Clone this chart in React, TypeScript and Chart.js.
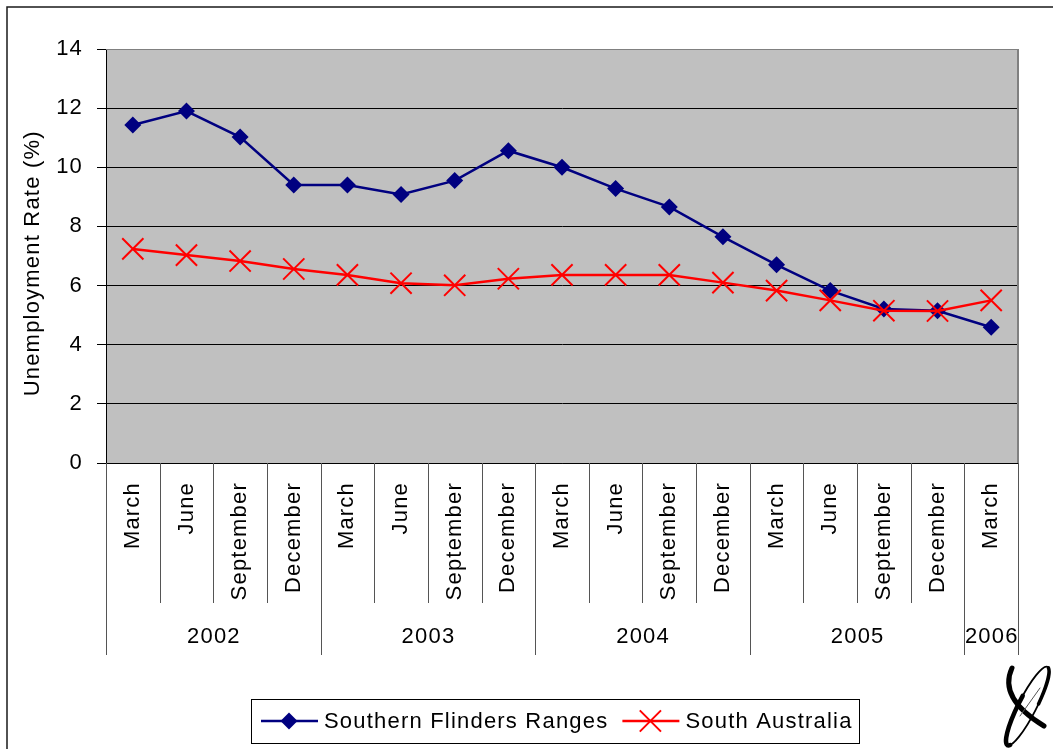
import React, { useEffect, useRef } from "react";
import { Chart, registerables } from "chart.js";

Chart.register(...registerables);

// ---- data ----
const months = [
  "March", "June", "September", "December",
  "March", "June", "September", "December",
  "March", "June", "September", "December",
  "March", "June", "September", "December",
  "March",
];
const yearLabels = ["2002", "2003", "2004", "2005", "2006"];
const yearSpans = [4, 4, 4, 4, 1];
const southernFlinders = [
  11.43, 11.9, 11.02, 9.4,
  9.4, 9.08, 9.55, 10.56,
  10.0, 9.28, 8.66, 7.65,
  6.7, 5.83, 5.21, 5.15,
  4.59,
];
const southAustralia = [
  7.24, 7.03, 6.83, 6.56,
  6.36, 6.08, 6.01, 6.23,
  6.36, 6.36, 6.36, 6.1,
  5.83, 5.5, 5.15, 5.14,
  5.5,
];
const yMin = 0;
const yMax = 14;
const yStep = 2;
const yTitle = "Unemployment Rate (%)";
const seriesNames = ["Southern Flinders Ranges", "South Australia"];

const FONT = "'Liberation Sans', Arial, Helvetica, sans-serif";
const SPACING = "1.2px";
const BLUE = "#000080";
const RED = "#FF0000";

function setSpacing(c: any) {
  try {
    (c.ctx as any).letterSpacing = SPACING;
  } catch (e) {
    /* ignore */
  }
}

function drawDiamond(ctx: CanvasRenderingContext2D, x: number, y: number, r: number, color: string) {
  ctx.beginPath();
  ctx.moveTo(x, y - r);
  ctx.lineTo(x + r, y);
  ctx.lineTo(x, y + r);
  ctx.lineTo(x - r, y);
  ctx.closePath();
  ctx.fillStyle = color;
  ctx.fill();
}

function drawX(ctx: CanvasRenderingContext2D, x: number, y: number, h: number, color: string) {
  ctx.beginPath();
  ctx.moveTo(x - h, y - h);
  ctx.lineTo(x + h, y + h);
  ctx.moveTo(x - h, y + h);
  ctx.lineTo(x + h, y - h);
  ctx.strokeStyle = color;
  ctx.lineWidth = 2;
  ctx.stroke();
}

function drawLogo(ctx: CanvasRenderingContext2D) {
  ctx.save();
  ctx.strokeStyle = "#000";
  ctx.lineCap = "round";
  const cx = 1027.5;
  const cy = 706;
  const rot = (27 * Math.PI) / 180;
  ctx.lineWidth = 1.8;
  ctx.beginPath();
  ctx.ellipse(cx, cy, 9, 44, rot, 0, Math.PI * 2);
  ctx.stroke();
  ctx.lineWidth = 4.5;
  ctx.beginPath();
  ctx.ellipse(cx, cy, 9, 44, rot, Math.PI * 0.42, Math.PI * 1.05);
  ctx.stroke();
  ctx.lineWidth = 3.5;
  ctx.beginPath();
  ctx.ellipse(cx, cy, 9, 44, rot, Math.PI * 1.55, Math.PI * 1.95);
  ctx.stroke();
  ctx.lineWidth = 5;
  ctx.beginPath();
  ctx.moveTo(1012, 668);
  ctx.quadraticCurveTo(998, 698, 1044, 726);
  ctx.stroke();
  ctx.lineWidth = 1;
  ctx.strokeStyle = "#555";
  ctx.beginPath();
  ctx.moveTo(1020, 716);
  ctx.lineTo(1040, 688);
  ctx.stroke();
  ctx.restore();
}

const decorPlugin = {
  id: "decor",
  beforeUpdate(c: any) {
    setSpacing(c);
  },
  beforeLayout(c: any) {
    setSpacing(c);
  },
  beforeDraw(c: any) {
    setSpacing(c);
    const { ctx, chartArea: a } = c;
    ctx.save();
    ctx.fillStyle = "#ffffff";
    ctx.fillRect(0, 0, c.width, c.height);
    ctx.fillStyle = "#C0C0C0";
    ctx.fillRect(a.left, a.top, a.right - a.left, a.bottom - a.top);
    ctx.restore();
  },
  afterDraw(c: any) {
    const { ctx, chartArea: a } = c;
    const xs = c.scales.x;
    const step = xs.getPixelForValue(1) - xs.getPixelForValue(0);
    const half = step / 2;
    ctx.save();
    try {
      (ctx as any).letterSpacing = SPACING;
    } catch (e) {}

    // plot area top / right borders
    ctx.strokeStyle = "#808080";
    ctx.lineWidth = 1;
    ctx.beginPath();
    ctx.moveTo(a.left, Math.round(a.top) + 0.5);
    ctx.lineTo(a.right, Math.round(a.top) + 0.5);
    ctx.stroke();
    ctx.lineWidth = 2;
    ctx.beginPath();
    ctx.moveTo(Math.round(a.right), a.top);
    ctx.lineTo(Math.round(a.right), a.bottom);
    ctx.stroke();

    // category separators
    const groupStarts = new Set<number>();
    let acc = 0;
    for (const s of yearSpans) {
      groupStarts.add(acc);
      acc += s;
    }
    const monthBottom = a.bottom + 140;
    const yearBottom = a.bottom + 192;
    ctx.strokeStyle = "#555";
    ctx.lineWidth = 1;
    for (let i = 0; i <= months.length; i++) {
      const bx =
        Math.round(
          xs.getPixelForValue(Math.min(i, months.length - 1)) + (i === months.length ? half : -half)
        ) + 0.5;
      const isYear = groupStarts.has(i) || i === months.length;
      ctx.beginPath();
      ctx.moveTo(bx, a.bottom);
      ctx.lineTo(bx, isYear ? yearBottom : monthBottom);
      ctx.stroke();
    }

    // year labels
    ctx.fillStyle = "#000";
    ctx.font = `22px ${FONT}`;
    ctx.textAlign = "center";
    ctx.textBaseline = "middle";
    let start = 0;
    yearLabels.forEach((lab, k) => {
      const end = start + yearSpans[k] - 1;
      const l = xs.getPixelForValue(start) - half;
      const r = xs.getPixelForValue(end) + half;
      ctx.fillText(lab, (l + r) / 2 + 0.6, a.bottom + 174);
      start += yearSpans[k];
    });

    // legend
    const ly = 721;
    ctx.textAlign = "left";
    ctx.textBaseline = "middle";
    let lx = 261;
    let lastEnd = lx;
    c.data.datasets.forEach((ds: any, k: number) => {
      ctx.strokeStyle = ds.borderColor;
      ctx.lineWidth = 2.5;
      ctx.beginPath();
      ctx.moveTo(lx, ly);
      ctx.lineTo(lx + 57, ly);
      ctx.stroke();
      if (k === 0) drawDiamond(ctx, lx + 28, ly, 8.5, ds.borderColor);
      else drawX(ctx, lx + 28, ly, 10.6, ds.borderColor);
      ctx.fillStyle = "#000";
      const tx = lx + 63;
      ctx.fillText(ds.label, tx, ly + 1);
      const w = ctx.measureText(ds.label).width;
      lastEnd = tx + w;
      lx = tx + w + 14;
    });
    ctx.strokeStyle = "#000";
    ctx.lineWidth = 1;
    ctx.strokeRect(251.5, 699.5, Math.round(lastEnd + 6 - 251), 44);

    // outer frame
    ctx.strokeStyle = "#1a1a1a";
    ctx.lineWidth = 1.5;
    ctx.beginPath();
    ctx.moveTo(7, c.height);
    ctx.lineTo(7, 7);
    ctx.lineTo(c.width, 7);
    ctx.stroke();

    drawLogo(ctx);
    ctx.restore();
  },
};

export default function App() {
  const ref = useRef<HTMLCanvasElement>(null);

  useEffect(() => {
    document.body.style.margin = "0";
    const canvas = ref.current;
    if (!canvas) return;
    const chart = new Chart(canvas, {
      type: "line",
      data: {
        labels: months,
        datasets: [
          {
            label: seriesNames[0],
            data: southernFlinders,
            borderColor: BLUE,
            backgroundColor: BLUE,
            borderWidth: 2.5,
            pointStyle: "rectRot",
            pointRadius: 8.5,
            pointBorderWidth: 0,
            pointBackgroundColor: BLUE,
            pointBorderColor: BLUE,
            tension: 0,
            order: 1,
          },
          {
            label: seriesNames[1],
            data: southAustralia,
            borderColor: RED,
            backgroundColor: RED,
            borderWidth: 2.5,
            pointStyle: "crossRot",
            pointRadius: 15,
            pointBorderWidth: 2,
            pointBorderColor: RED,
            tension: 0,
            order: 0,
          },
        ],
      },
      options: {
        responsive: false,
        devicePixelRatio: 1,
        animation: false,
        events: [],
        layout: { padding: { left: 8, right: 35, top: 49, bottom: 0 } },
        plugins: {
          legend: { display: false },
          tooltip: { enabled: false },
        },
        scales: {
          x: {
            type: "category",
            offset: true,
            grid: { display: false, drawTicks: false },
            border: { display: true, color: "#000", width: 1 },
            ticks: {
              autoSkip: false,
              maxRotation: 90,
              minRotation: 90,
              color: "#000",
              font: { size: 22, family: FONT },
              padding: 19,
            },
            afterFit(s: any) {
              s.height = 286;
            },
          },
          y: {
            min: yMin,
            max: yMax,
            ticks: {
              stepSize: yStep,
              color: "#000",
              font: { size: 22, family: FONT },
              padding: 14,
            },
            grid: { color: "#000", lineWidth: 1, tickLength: 9 },
            border: { display: true, color: "#000", width: 1 },
            title: {
              display: true,
              text: yTitle + "  ",
              color: "#000",
              font: { size: 22, family: FONT },
              padding: { top: 12, bottom: 0 },
            },
            afterFit(s: any) {
              s.width = 98;
            },
          },
        },
      } as any,
      plugins: [decorPlugin as any],
    });
    return () => chart.destroy();
  }, []);

  return <canvas ref={ref} width={1053} height={749} style={{ display: "block" }} />;
}
